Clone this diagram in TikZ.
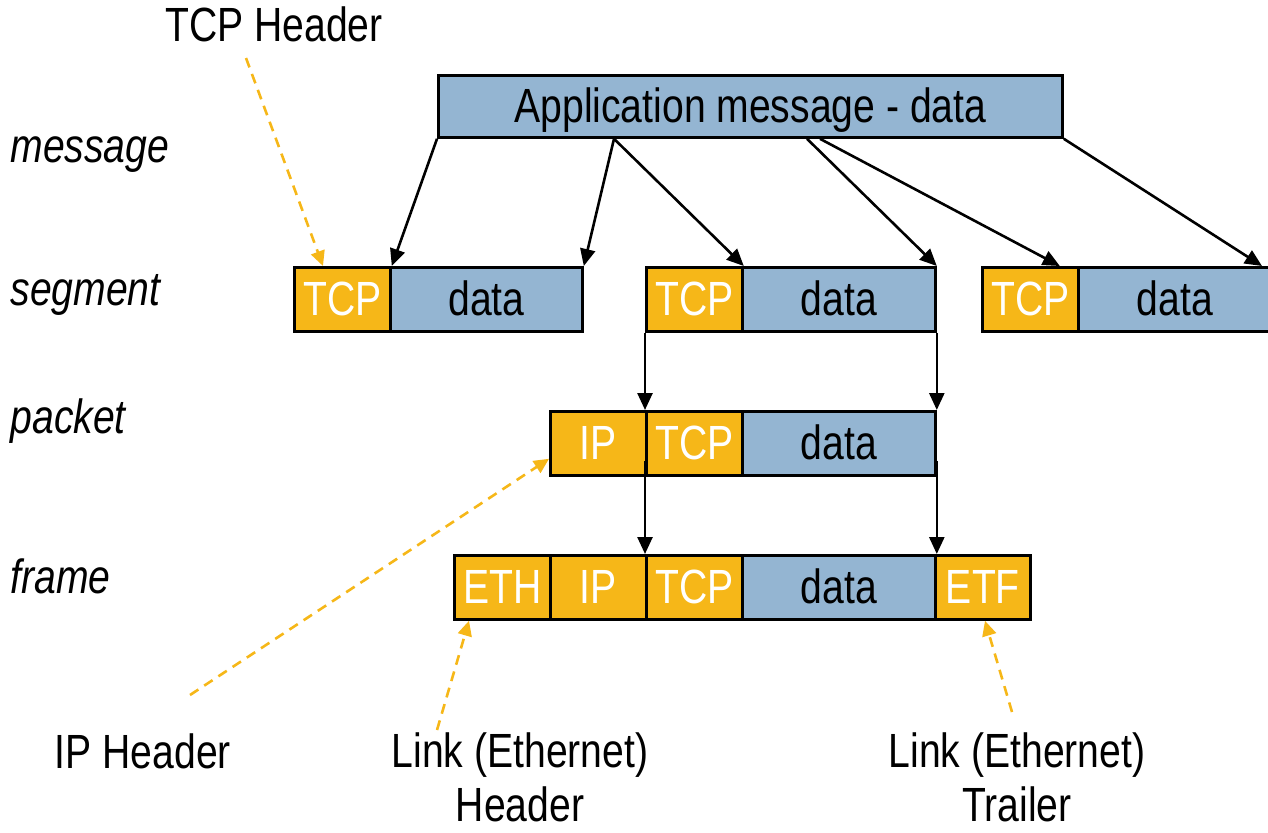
\documentclass[tikz,border=0pt]{standalone}
\usepackage{fontspec}
\setmainfont{Liberation Sans}[FakeStretch=0.815]
\usetikzlibrary{arrows.meta,calc}
\definecolor{hdrorange}{RGB}{246,183,24}
\definecolor{datblue}{RGB}{148,181,210}
\begin{document}
\begin{tikzpicture}[x=1pt,y=-1pt,
  every node/.style={font=\fontsize{48}{57}\selectfont},
  cell/.style={draw=black, line width=2.8pt, inner sep=0pt, minimum height=64pt, anchor=north west, text height=33pt, text depth=0pt},
  hdr/.style={cell, fill=hdrorange, text=white, minimum width=96pt},
  dat/.style={cell, fill=datblue, text=black, minimum width=193pt},
  conn/.style={line width=2.6pt, -{Triangle[length=17pt,width=15pt]}},
  note/.style={draw=hdrorange, line width=2.6pt, dash pattern=on 10pt off 7pt, -{Triangle[length=15pt,width=14pt]}},
  lbl/.style={anchor=base west, font=\fontsize{48}{58}\selectfont\itshape},
  bottomlbl/.style={anchor=base, align=center, inner sep=0pt, font=\fontsize{48}{54}\selectfont},
]
\useasboundingbox (0,0) rectangle (1268,832);

% boxes
\node[dat, minimum width=624pt, minimum height=62pt] (app) at (437,74) {Application message - data};
\node[hdr] (tcpA) at (293,266) {TCP};
\node[dat, minimum width=192pt] (datA) at (389,266) {data};
\node[hdr] (tcpB) at (645,266) {TCP};
\node[dat] (datB) at (741,266) {data};
\node[hdr] (tcpC) at (981,266) {TCP};
\node[dat] (datC) at (1077,266) {data};
\node[hdr] (ipP) at (549,410) {IP};
\node[hdr] (tcpP) at (645,410) {TCP};
\node[dat] (datP) at (741,410) {data};
\node[hdr] (ethF) at (453,554) {ETH};
\node[hdr] (ipF) at (549,554) {IP};
\node[hdr] (tcpF) at (645,554) {TCP};
\node[dat] (datF) at (741,554) {data};
\node[hdr, minimum width=95pt] (etfF) at (934,554) {ETF};

% labels
\node[anchor=base] (tcphdr) at (274,42) {TCP Header};
\node[lbl] (lmsg) at (7,162) {message};
\node[lbl] (lseg) at (7,305) {segment};
\node[lbl] (lpkt) at (7,433) {packet};
\node[lbl] (lfrm) at (7,593) {frame};
\node[anchor=base] (iphdr) at (143,768) {IP Header};
\node[bottomlbl] (ethhdr) at (520,821) {Link (Ethernet)\\Header};
\node[bottomlbl] (etftr) at (1017,821) {Link (Ethernet)\\Trailer};

% arrows from message
\draw[conn] (app.south west) -- (tcpA.north east);
\draw[conn] ($(app.south west)+(177,0)$) -- (datA.north east);
\draw[conn] ($(app.south west)+(177,0)$) -- (tcpB.north east);
\draw[conn] ($(app.south west)+(370,0)$) -- (datB.north east);
\draw[conn] ($(app.south west)+(383,0)$) -- ($(tcpC.north east)+(-20,0)$);
\draw[conn] (app.south east) -- ($(datC.north west)+(185,0)$);

% vertical arrows
\draw[conn] (tcpB.south west) -- (tcpP.north west);
\draw[conn] (datB.south east) -- (datP.north east);
\draw[conn] ($(tcpP.south west)+(0,-16)$) -- (tcpF.north west);
\draw[conn] ($(datP.south east)+(0,-16)$) -- (datF.north east);

% dashed notes
\coordinate (s1) at (246,58);
\coordinate (s2) at (190,695);
\coordinate (s3) at (437,730);
\coordinate (s4) at (1012,712);
\draw[note] (s1) -- ($(tcpA.north west)+(30,0)$);
\draw[note] (s2) -- ($(ipP.south west)+(0,-18)$);
\draw[note] (s3) -- ($(ethF.south west)+(16,0)$);
\draw[note] (s4) -- ($(etfF.south west)+(51,0)$);
\end{tikzpicture}
\end{document}
